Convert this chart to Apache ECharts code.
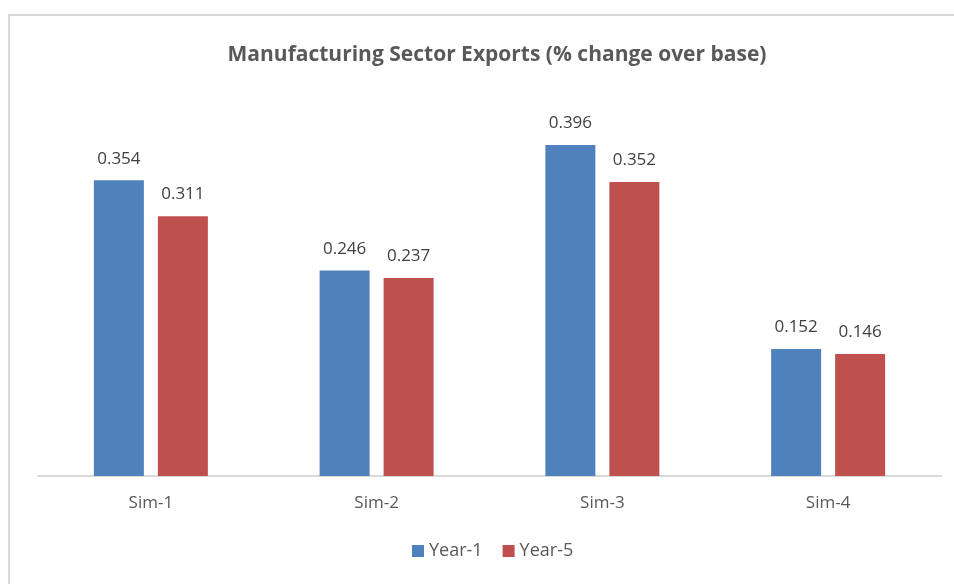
<!DOCTYPE html>
<html>
<head>
<meta charset="utf-8">
<script src="https://cdn.jsdelivr.net/npm/echarts@6/dist/echarts.min.js"></script>
<style>
  html, body { margin: 0; padding: 0; background: #fff; }
  #chart { width: 954px; height: 584px; }
</style>
</head>
<body>
<div id="chart"></div>
<script>
// Simulation scenarios and the export change for each reporting year
const categories = ['Sim-1', 'Sim-2', 'Sim-3', 'Sim-4'];
const year1 = [0.354, 0.246, 0.396, 0.152];
const year5 = [0.311, 0.237, 0.352, 0.146];
const seriesNames = ['Year-1', 'Year-5'];

const FONT = '"Open Sans", "Liberation Sans", sans-serif';

const chart = echarts.init(document.getElementById('chart'), null, { renderer: 'canvas' });

const labelStyle = {
  show: true,
  position: 'top',
  distance: 13,
  color: '#404040',
  fontSize: 17,
  fontFamily: FONT,
  formatter: p => p.value.toFixed(3)
};

chart.setOption({
  backgroundColor: '#ffffff',
  animation: false,
  graphic: [{
    type: 'rect',
    shape: { x: 9, y: 15, width: 960, height: 600 },
    style: { fill: 'none', stroke: '#d9d9d9', lineWidth: 2 },
    silent: true
  }],
  title: {
    text: 'Manufacturing Sector Exports (% change over base)',
    left: 492,
    textAlign: 'center',
    top: 40,
    textStyle: {
      color: '#595959',
      fontSize: 21,
      fontWeight: 'bold',
      fontFamily: FONT
    }
  },
  legend: {
    data: seriesNames,
    bottom: 19,
    left: 407,
    itemWidth: 12,
    itemHeight: 12,
    itemGap: 20,
    icon: 'rect',
    textStyle: { color: '#595959', fontSize: 18, fontFamily: FONT }
  },
  grid: { left: 38, right: 13, top: 100, bottom: 108, containLabel: false },
  xAxis: {
    type: 'category',
    data: categories,
    axisLine: { lineStyle: { color: '#d9d9d9', width: 2 } },
    axisTick: { show: false },
    axisLabel: { color: '#595959', fontSize: 17, fontFamily: FONT, margin: 19 }
  },
  yAxis: {
    type: 'value',
    min: 0,
    max: 0.45,
    show: false,
    splitLine: { show: false }
  },
  series: [
    {
      name: seriesNames[0],
      type: 'bar',
      data: year1,
      barWidth: 50,
      barGap: '28%',
      itemStyle: { color: '#4f81bd' },
      label: labelStyle
    },
    {
      name: seriesNames[1],
      type: 'bar',
      data: year5,
      barWidth: 50,
      itemStyle: { color: '#c0504d' },
      label: labelStyle
    }
  ]
});
</script>
</body>
</html>
